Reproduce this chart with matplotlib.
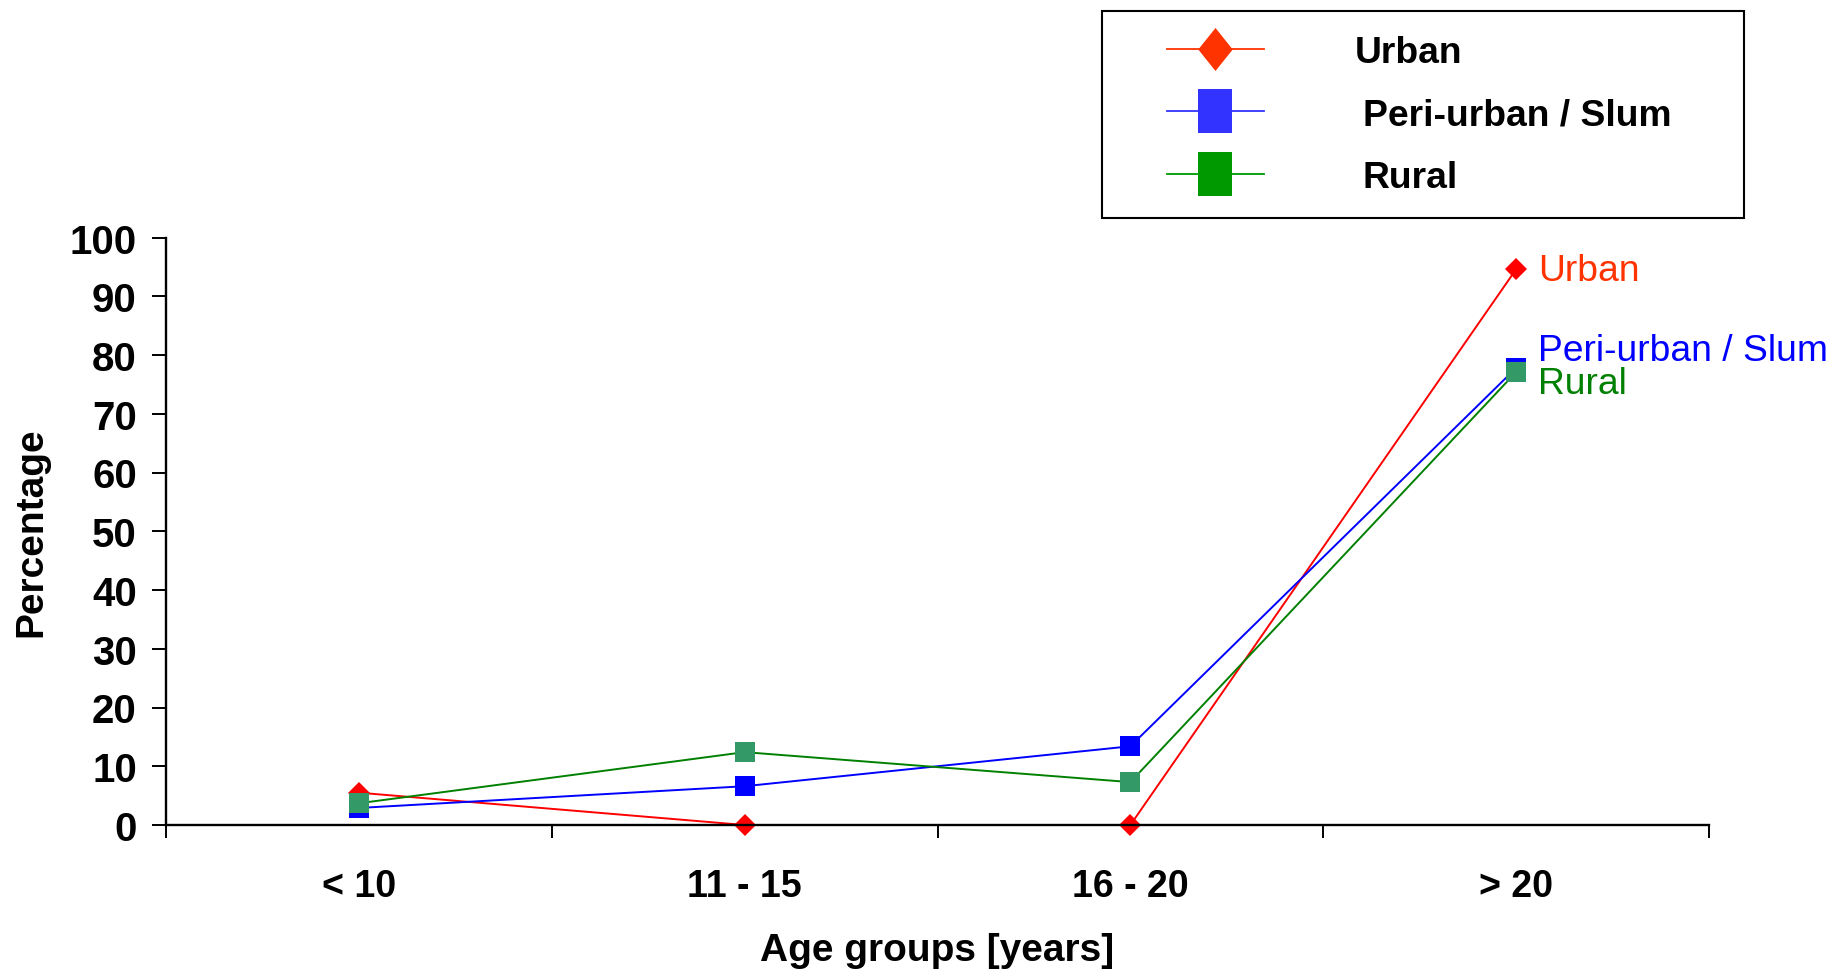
import matplotlib
matplotlib.use("Agg")
import matplotlib.pyplot as plt
from matplotlib.lines import Line2D
from matplotlib.patches import Rectangle

plt.rcParams['font.family'] = ['Liberation Sans', 'DejaVu Sans']

# Age groups and percentage per residence type
age_groups = ["< 10", "11 - 15", "16 - 20", "> 20"]
urban = [5.5, 0.0, 0.0, 94.6]
peri_urban = [2.9, 6.6, 13.4, 77.8]
rural = [3.7, 12.4, 7.3, 77.1]
series_names = ["Urban", "Peri-urban / Slum", "Rural"]

W, H = 1833, 970
fig = plt.figure(figsize=(W / 100, H / 100), dpi=100)

# axes box in pixel terms (left, right, bottom, top)
x0, x1, yb, yt = 166, 1709, 826, 238.5
ax = fig.add_axes([x0 / W, 1 - yb / H, (x1 - x0) / W, (yb - yt) / H])

xs = list(range(len(age_groups)))

# name, values, line colour, marker, marker colour, marker size, label colour, label offset
styles = [
    (series_names[0], urban, '#FF0000', 'D', '#FF0000', 11, '#FF3300', -1),
    (series_names[1], peri_urban, '#0000FF', 's', '#0000FF', 14, '#0000FF', 12.5),
    (series_names[2], rural, '#008000', 's', '#339966', 14, '#008000', -8.5),
]

for name, vals, lc, mk, mc, ms, tc, dy in styles:
    ax.plot(xs, vals, color=lc, lw=1.4, marker=mk, markersize=ms,
            markerfacecolor=mc, markeredgewidth=0, clip_on=False)
    ax.annotate(name, (xs[-1], vals[-1]), xytext=(16, dy),
                textcoords='offset points', ha='left', va='center',
                fontsize=26.8, color=tc, annotation_clip=False)

ax.set_xlim(-0.5, len(age_groups) - 0.5)
ax.set_ylim(0, 100)
ax.set_yticks(range(0, 101, 10))

ax.set_xticks(xs)
ax.set_xticklabels(age_groups, fontsize=27, fontweight='bold')
ax.set_xticks([i - 0.5 for i in range(len(age_groups) + 1)], minor=True)
ax.tick_params(axis='x', which='major', length=0, pad=31)
ax.tick_params(axis='x', which='minor', length=9, width=1.4, direction='out')
ax.tick_params(axis='y', length=10, width=1.4, pad=11, labelsize=29)
for lab in ax.get_yticklabels():
    lab.set_fontweight('bold')

for side in ['top', 'right']:
    ax.spines[side].set_visible(False)
for side in ['left', 'bottom']:
    ax.spines[side].set_linewidth(1.7)

ax.set_xlabel("Age groups [years]", fontsize=28, fontweight='bold', va='center')
ax.xaxis.set_label_coords(0.5, -(951 - yb) / (yb - yt))
ax.set_ylabel("Percentage", fontsize=28, fontweight='bold', va='center')
ax.yaxis.set_label_coords(-(x0 - 31) / (x1 - x0), 0.5)

# legend box drawn by hand in figure pixels
def fx(px):
    return px / W

def fy(py):
    return 1 - py / H

fig.add_artist(Rectangle((fx(1102), fy(219)), fx(642), 207 / H,
                         transform=fig.transFigure, fill=False,
                         ec='black', lw=1.5))

rect = [(-0.8, -1), (0.8, -1), (0.8, 1), (-0.8, 1), (-0.8, -1)]
diamond = [(0, -1), (0.8, 0), (0, 1), (-0.8, 0), (0, -1)]
legend_rows = [
    (series_names[0], '#FF3300', diamond, 50, 1355),
    (series_names[1], '#3333FF', rect, 112, 1363),
    (series_names[2], '#009900', rect, 175, 1363),
]
for name, col, verts, py, tx in legend_rows:
    fig.add_artist(Line2D([fx(1167), fx(1264)], [fy(py), fy(py)],
                          transform=fig.transFigure, color=col, lw=1.3))
    fig.add_artist(Line2D([fx(1215)], [fy(py)], transform=fig.transFigure,
                          marker=verts, markersize=31, markerfacecolor=col,
                          markeredgewidth=0, linestyle='none'))
    fig.text(fx(tx), fy(py + 3.5), name, fontsize=26.8, fontweight='bold',
             ha='left', va='center')

fig.savefig("out.png", dpi=100)
